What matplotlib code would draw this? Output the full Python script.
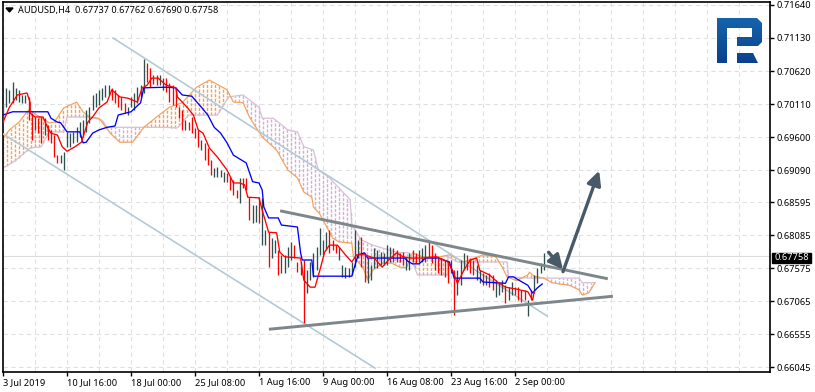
import numpy as np
import matplotlib
matplotlib.use("Agg")
import matplotlib.pyplot as plt
from matplotlib.patches import Polygon

plt.rcParams['font.family'] = ['Noto Sans', 'DejaVu Sans']

# H4 bars
bar_high = [.7013, .7036, .7033, .7045, .7036, .7033, .7025, .7025, .7022, .6997,
            .6991, .6989, .6991, .6989, .6979, .6971, .6963, .6932, .6932, .6937,
            .6968, .6966, .6968, .6975, .6983, .6986, .7002, .7006, .7025, .7028,
            .7033, .7036, .7040, .7040, .7036, .7033, .7025, .7022, .7013, .7006,
            .7022, .7028, .7037, .7040, .7081, .7074, .7066, .7056, .7056, .7056,
            .7051, .7051, .7043, .7040, .7036, .7006, .7002, .6986, .6983, .6991,
            .6974, .6971, .6955, .6951, .6943, .6924, .6912, .6914, .6909, .6906,
            .6904, .6898, .6894, .6878, .6897, .6897, .6897, .6867, .6855, .6855,
            .6867, .6866, .6816, .6813, .6804, .6801, .6785, .6778, .6778, .6790,
            .6798, .6793, .6767, .6767, .6770, .6754, .6767, .6781, .6790, .6819,
            .6801, .6813, .6816, .6801, .6793, .6790, .6762, .6759, .6758, .6767,
            .6816, .6801, .6805, .6778, .6773, .6762, .6789, .6785, .6782, .6781,
            .6793, .6790, .6789, .6785, .6781, .6782, .6775, .6781, .6785, .6781,
            .6785, .6789, .6793, .6798, .6793, .6781, .6773, .6773, .6770, .6767,
            .6770, .6754, .6754, .6770, .6781, .6778, .6773, .6770, .6762, .6754,
            .6750, .6747, .6750, .6747, .6739, .6736, .6739, .6731, .6728, .6736,
            .6728, .6728, .6724, .6724, .6708, .6724, .6747, .6758, .6765, .6781]
bar_low = [.6982, .7006, .7013, .7013, .7017, .7014, .7013, .7013, .6986, .6955,
           .6971, .6966, .6951, .6963, .6955, .6951, .6929, .6920, .6920, .6909,
           .6945, .6945, .6951, .6952, .6960, .6960, .6968, .6982, .7002, .7006,
           .7009, .7017, .7022, .7025, .7017, .7013, .7006, .7002, .6997, .6994,
           .7006, .7002, .7013, .7022, .7028, .7045, .7037, .7042, .7040, .7040,
           .7033, .7030, .7014, .7009, .7006, .6989, .6971, .6971, .6971, .6966,
           .6958, .6945, .6940, .6924, .6917, .6901, .6898, .6898, .6898, .6891,
           .6891, .6878, .6871, .6866, .6858, .6881, .6878, .6832, .6827, .6829,
           .6827, .6793, .6793, .6759, .6773, .6781, .6747, .6750, .6750, .6759,
           .6770, .6773, .6751, .6747, .6673, .6719, .6739, .6744, .6754, .6778,
           .6778, .6785, .6781, .6785, .6781, .6770, .6744, .6742, .6744, .6747,
           .6759, .6773, .6759, .6736, .6734, .6739, .6758, .6758, .6762, .6762,
           .6762, .6767, .6767, .6767, .6767, .6762, .6754, .6754, .6767, .6765,
           .6767, .6767, .6767, .6775, .6765, .6754, .6750, .6747, .6744, .6734,
           .6750, .6685, .6716, .6731, .6754, .6754, .6750, .6747, .6739, .6734,
           .6731, .6731, .6728, .6724, .6713, .6716, .6721, .6704, .6708, .6716,
           .6716, .6708, .6705, .6708, .6684, .6708, .6719, .6734, .6750, .6754]
bar_kind = ("ddddddddrr" "drrdrrrrdd" "dddddddddd" "ddddrrrrrd" "dddddrrrrd"
            "drrrrrrdrr" "rrdrrrdddd" "rrrrdrrrdd" "rddrddrddd" "drrdrddddd"
            "ddrrrddddd" "ddrrdddddd" "ddrrrrddrr" "dddrrrrrrr" "drdddrrrdd"
            "rdrrdddrdd" "rrrrdrdddd")

# moving lines: bar number, price
blue_x = [0, 3, 14, 15, 17, 18, 20, 24, 25, 26, 28, 30, 32.5, 35, 36, 40, 43, 44, 51, 54, 56, 59, 62, 64,
          66, 68, 70, 72, 76, 78, 80, 81, 81.5, 83, 86, 87, 92, 93, 93.5, 96.5, 97, 109, 110, 111, 113,
          114, 125.5, 126.5, 128, 130, 132, 136, 139.5, 141, 149, 150, 157, 158, 159.5, 161.5, 164,
          165.5, 167, 168.5]
blue_y = [.6994, .6999, .6999, .6989, .6983, .6982, .6968, .6968, .6951, .6952, .6966, .6971, .6975, .6977,
          .6994, .6999, .7013, .7036, .7037, .7036, .7025, .7023, .7006, .6994, .6975, .6966, .6951, .6932,
          .6920, .6891, .6889, .6878, .6852, .6835, .6835, .6824, .6821, .6781, .6770, .6770, .6745, .6745,
          .6762, .6778, .6781, .6773, .6773, .6768, .6764, .6764, .6773, .6773, .6767, .6742, .6742, .6736,
          .6734, .6744, .6744, .6738, .6731, .6719, .6727, .6733]
red_x = [0, 2, 4.5, 7.5, 8.5, 8.5, 10, 12.5, 14, 15, 17, 18.5, 20, 22.5, 24.5, 26.5, 28, 30, 32.5, 34, 36.5,
         39, 42, 43.5, 45, 46.5, 48.5, 51, 54, 54.5, 57.5, 59.5, 61, 62.5, 64.5, 67, 70, 72, 74, 75.5, 76.5,
         80, 81, 83, 85.5, 86.5, 88, 93, 94, 96, 97.5, 99, 100.5, 102, 104.5, 107, 109, 110.5, 113, 116,
         118.5, 120.5, 123, 125, 127, 131, 135.5, 139, 140.5, 142, 144, 146, 148, 149, 152, 154.5, 157,
         160.5, 164, 165.5, 166]
red_y = [.6983, .7006, .7025, .7028, .7013, .6997, .6991, .6991, .6974, .6966, .6963, .6945, .6938, .6945,
         .6952, .6983, .6991, .7005, .7014, .7033, .7022, .7020, .7014, .7036, .7040, .7051, .7051, .7040,
         .7036, .7022, .7006, .6994, .6971, .6966, .6943, .6929, .6909, .6889, .6889, .6886, .6867, .6866,
         .6847, .6813, .6812, .6782, .6775, .6773, .6739, .6728, .6728, .6754, .6782, .6793, .6793, .6778,
         .6767, .6778, .6778, .6773, .6759, .6770, .6781, .6775, .6773, .6773, .6775, .6767, .6754, .6734,
         .6754, .6770, .6773, .6754, .6747, .6736, .6728, .6725, .6721, .6708, .6721]

# cloud edges
span_a_x = [0, 2, 5, 8, 11.5, 14.5, 16, 19, 23, 25, 27, 30, 33.5, 36.5, 40.5, 44, 48, 52, 56, 60.5, 64.5, 70,
            72, 75, 77, 81, 85.5, 89, 92, 94, 96.5, 97, 99, 103, 105, 109, 109.5, 110.5, 112.5, 114, 115.5,
            118.5, 121.5, 124, 126, 128, 131, 136.5, 139.5, 144, 147.5, 150, 154, 156, 157.5, 160.5, 164,
            164.5, 166, 169, 171.5, 174, 177, 180, 181, 183, 185]
span_a_y = [.6958, .6971, .6983, .7002, .6991, .6982, .6983, .7005, .7014, .6999, .6991, .6989, .6966, .6952,
            .6952, .6975, .6991, .7006, .7013, .7037, .7048, .7033, .7014, .7013, .6991, .6960, .6940, .6909,
            .6897, .6875, .6867, .6852, .6841, .6804, .6798, .6796, .6775, .6770, .6758, .6739, .6754, .6765,
            .6765, .6759, .6758, .6781, .6775, .6775, .6778, .6767, .6773, .6778, .6775, .6759, .6744, .6738,
            .6747, .6751, .6745, .6742, .6735, .6733, .6731, .6724, .6716, .6719, .6735]
span_b_x = [0, 4, 8.5, 12, 13, 14.5, 19, 20, 27, 31, 32.5, 51, 54.5, 58, 67, 70.5, 75, 80, 81, 84.5, 89, 92,
            94, 97, 98.5, 102, 108.5, 109, 112, 115.5, 123, 127, 129.5, 139, 139.01, 142, 146, 152, 157.5,
            158, 165.5, 180, 181, 185]
span_b_y = [.6912, .6924, .6943, .6945, .6955, .6968, .6968, .6991, .6991, .6986, .6975, .6975, .6974, .6994,
            .6994, .7022, .7025, .7006, .6989, .6989, .6971, .6968, .6945, .6940, .6909, .6897, .6863, .6824,
            .6801, .6793, .6782, .6781, .6747, .6747, .6775, .6767, .6767, .6767, .6767, .6744, .6742, .6742,
            .6735, .6735]

# drawn objects
channel_top = ([34.4, 170], [.7113, .66835])
channel_bottom = ([-1, 116.25], [.6968, .6603])
wedge_top = ([86.6, 189], [.6846, .6741])
wedge_bottom = ([83.1, 190.6], [.6663, .6714])
last_price = 0.67758

price_ticks = [.71640, .71130, .70620, .70110, .69600, .69090, .68595, .68085, .67575, .67065, .66555, .66045]
date_ticks = [0, 20, 40, 60, 80, 100, 120, 140, 160]
date_labels = ["3 Jul 2019", "10 Jul 16:00", "18 Jul 00:00", "25 Jul 08:00", "1 Aug 16:00",
               "9 Aug 00:00", "16 Aug 08:00", "23 Aug 16:00", "2 Sep 00:00"]

W, H = 815, 392
fig = plt.figure(figsize=(W / 100, H / 100), dpi=100)
ax = fig.add_axes([2.5 / W, 1 - 371.5 / H, 767 / W, 369.5 / H])
ax.set_xlim(-0.16, 239.53)
ax.set_ylim(0.71717 - 0.0001545 * 371.5, 0.71717 - 0.0001545 * 2)

for i in range(0, 240, 10):
    ax.axvline(i, color='#e0e0e0', lw=0.8, ls=(0, (4, 3)), zorder=0)
for p in price_ticks:
    ax.axhline(p, color='#e0e0e0', lw=0.8, ls=(0, (4, 3)), zorder=0)
ax.axhline(last_price, color='#dcdcdc', lw=0.8, zorder=1)

# cloud hatch, columns about 4 px apart
hatch_x = np.arange(0, 185, 1.25)
a = np.interp(hatch_x, span_a_x, span_a_y)
b = np.interp(hatch_x, span_b_x, span_b_y)
up = a >= b
hatch = dict(lw=1.0, ls=(0, (2.2, 1.1)), zorder=2)
ax.vlines(hatch_x[up], b[up], a[up], color='#f3a05a', **hatch)
ax.vlines(hatch_x[~up], a[~up], b[~up], color='#cfb2cf', **hatch)
ax.plot(span_b_x, span_b_y, color='#d8bfd8', lw=0.9, zorder=2)
ax.plot(span_a_x, span_a_y, color='#f4a460', lw=0.9, zorder=2)

ax.plot(*channel_top, color='#b4cad6', lw=1.2, zorder=3)
ax.plot(*channel_bottom, color='#b4cad6', lw=1.2, zorder=3)

idx = np.arange(len(bar_high))
colors = ['#ff0000' if k == 'r' else '#2f4f4f' for k in bar_kind]
ax.vlines(idx, bar_low, bar_high, colors=colors, lw=0.95, zorder=4)
ax.plot(blue_x, blue_y, color='#0000ff', lw=0.95, zorder=5)
ax.plot(red_x, red_y, color='#ff0000', lw=0.95, zorder=5)

ax.plot(*wedge_top, color='#7c868b', lw=2.1, zorder=6, solid_capstyle='butt')
ax.plot(*wedge_bottom, color='#7c868b', lw=2.1, zorder=6, solid_capstyle='butt')

arrow_style = dict(arrowstyle='-|>,head_width=0.42,head_length=0.85', color='#485a68', lw=2.4,
                   shrinkA=0, shrinkB=0)
ax.annotate('', xy=(175, .67555), xytext=(170.5, .6782), arrowprops=arrow_style, zorder=7)
ax.annotate('', xy=(186.3, .6908), xytext=(175, .6752), arrowprops=arrow_style, zorder=7)

ax.yaxis.tick_right()
ax.set_yticks(price_ticks)
ax.set_yticklabels([f"{p:.5f}" for p in price_ticks])
ax.set_xticks(date_ticks)
ax.set_xticklabels(date_labels, ha='left')
ax.tick_params(axis='y', length=3, width=1, pad=2, labelsize=6.7, colors='black')
ax.tick_params(axis='x', length=3, width=1, pad=2, labelsize=6.7, colors='black')
for s in ax.spines.values():
    s.set_linewidth(1.2)

# pixel overlay for header, price tag and logo
ov = fig.add_axes([0, 0, 1, 1], facecolor='none', zorder=10)
ov.set_xlim(0, W)
ov.set_ylim(H, 0)
ov.axis('off')
ov.add_patch(Polygon([(6, 8), (13, 8), (9.5, 12)], color='black'))
ov.text(18, 10.5, "AUDUSD,H4  0.67737 0.67762 0.67690 0.67758", fontsize=6.6, va='center', ha='left')
ov.add_patch(Polygon([(772, 252.5), (811, 252.5), (811, 263), (772, 263)], color='black'))
ov.text(791.5, 258, f"{last_price:.5f}", color='white', fontsize=6.7, va='center', ha='center')

logo_top = Polygon([(717, 18), (757, 18), (762, 23), (762, 42), (758, 46), (737, 46), (737, 37), (752, 37),
                    (752, 28), (727, 28), (727, 63), (717, 63)], closed=True, transform=ov.transData,
                   facecolor='none', edgecolor='none')
logo_leg = Polygon([(737, 53), (753, 53), (758, 63), (737, 63)], closed=True, transform=ov.transData,
                   facecolor='none', edgecolor='none')
grad = np.linspace(0, 1, 50).reshape(-1, 1)
cmap = matplotlib.colors.LinearSegmentedColormap.from_list('logo', ['#1565ad', '#0b3f8c'])
for shape in (logo_top, logo_leg):
    ov.add_patch(shape)
    im = ov.imshow(grad, extent=(715, 764, 65, 16), cmap=cmap, aspect='auto', zorder=11)
    im.set_clip_path(shape)
ov.set_xlim(0, W)
ov.set_ylim(H, 0)

fig.savefig("out.png", dpi=100)
